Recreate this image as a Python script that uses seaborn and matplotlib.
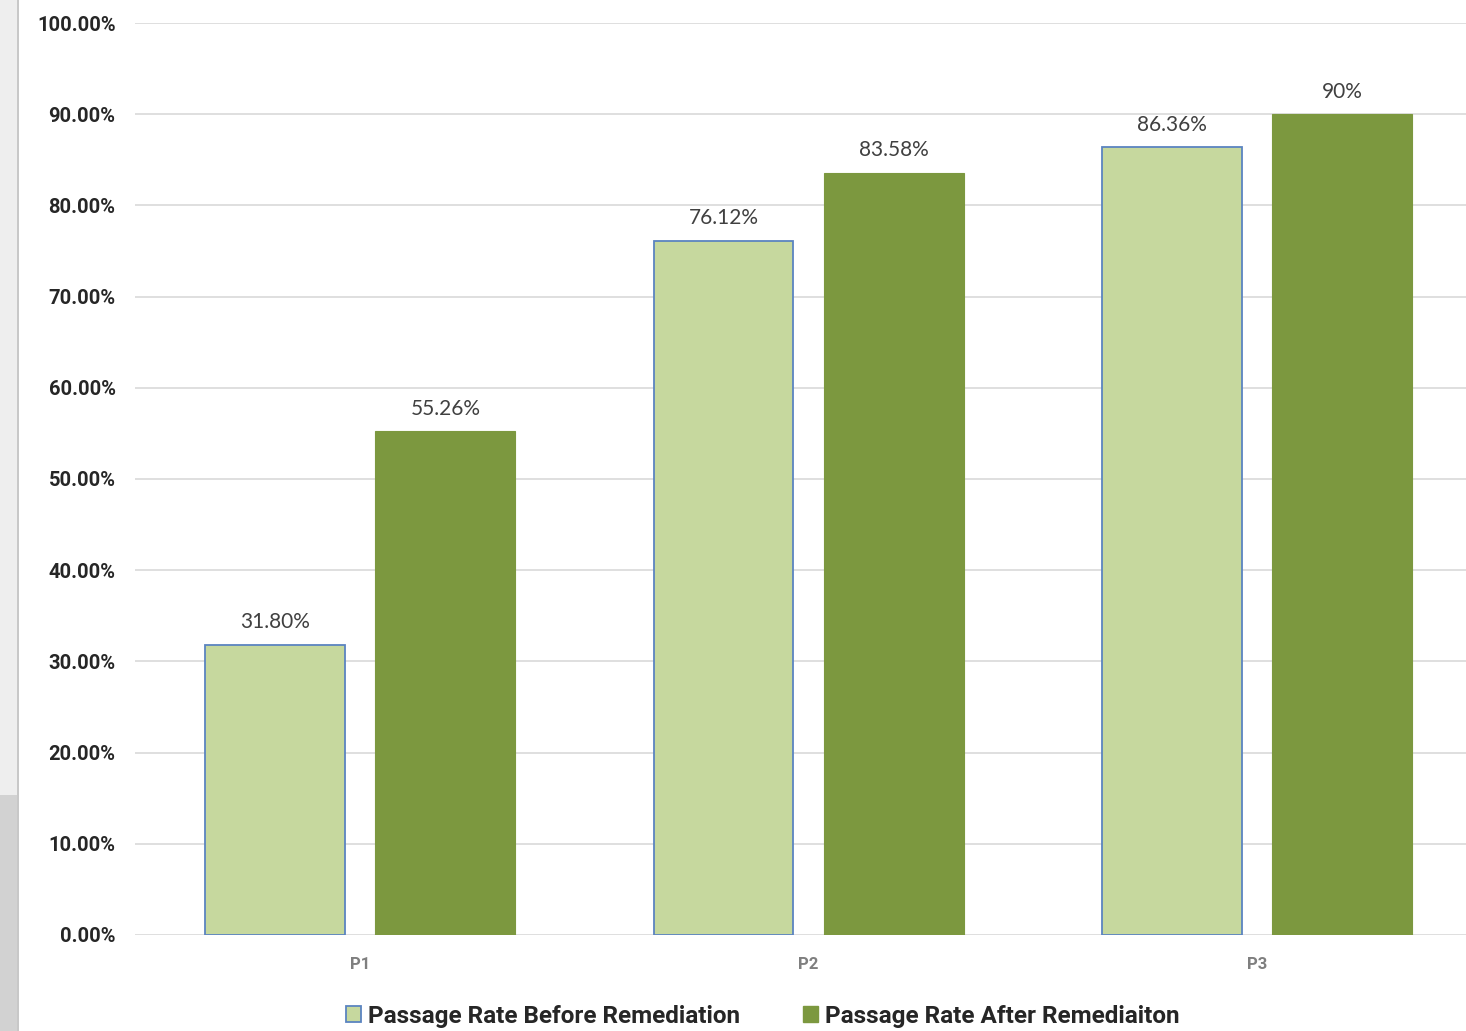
import numpy as np
import pandas as pd
import matplotlib
matplotlib.use("Agg")
import matplotlib.pyplot as plt
import seaborn as sns
from matplotlib.patches import Rectangle, Patch

phases = ["P1", "P2", "P3"]
before = [31.80, 76.12, 86.36]
after = [55.26, 83.58, 90.00]
before_labels = ["31.80%", "76.12%", "86.36%"]
after_labels = ["55.26%", "83.58%", "90%"]
series = ["Passage Rate Before Remediation", "Passage Rate After Remediaiton"]
yticks = [0, 10, 20, 30, 40, 50, 60, 70, 80, 90, 100]

light = "#C6D89E"
dark = "#7C983F"
edge_blue = "#5B84C0"

df = pd.DataFrame({
    "phase": phases * 2,
    "rate": before + after,
    "series": [series[0]] * 3 + [series[1]] * 3,
})

sns.set_style("white")
plt.rcParams["font.family"] = ["Lato", "DejaVu Sans"]
bold_font = ["Roboto", "DejaVu Sans"]

fig = plt.figure(figsize=(14.66, 10.31), dpi=100)
ax = fig.add_axes([135 / 1466, 96 / 1031, 1 - 135 / 1466, (935 - 23) / 1031])

sns.barplot(data=df, x="phase", y="rate", hue="series", hue_order=series,
            palette={series[0]: light, series[1]: dark},
            width=0.76, gap=0.18, ax=ax, legend=False, saturation=1)

for bar in ax.containers[0]:
    bar.set_edgecolor(edge_blue)
    bar.set_linewidth(1.3)
for bar in ax.containers[1]:
    bar.set_edgecolor(dark)
    bar.set_linewidth(0.8)

ax.bar_label(ax.containers[0], labels=before_labels, padding=9, fontsize=15, color="#404040")
ax.bar_label(ax.containers[1], labels=after_labels, padding=9, fontsize=15, color="#404040")

ax.set_ylim(0, 100)
ax.set_xlim(-0.502, -0.502 + 1331 / 448.5)
ax.set_yticks(yticks)
ax.set_yticklabels([f"{v:.2f}%" for v in yticks], fontsize=14.5, fontweight="bold",
                   color="#262626", family=bold_font)
ax.tick_params(axis="y", length=0, pad=14)
ax.tick_params(axis="x", length=0, pad=16, labelsize=12, labelcolor="#7F7F7F")
for lab in ax.get_xticklabels():
    lab.set_fontweight("bold")
    lab.set_family(bold_font)
ax.yaxis.grid(True, color="#D9D9D9", linewidth=1.2)
ax.set_axisbelow(True)
for s in ax.spines.values():
    s.set_visible(False)
ax.set_xlabel("")
ax.set_ylabel("")

# page shadow on the left edge
fig.patches.append(Rectangle((0, 0), 18 / 1466, 1, transform=fig.transFigure,
                             facecolor="#EEEEEE", edgecolor="none", zorder=-1))
fig.patches.append(Rectangle((0, 0), 18 / 1466, (1031 - 795) / 1031, transform=fig.transFigure,
                             facecolor="#D2D2D2", edgecolor="none", zorder=-1))
fig.patches.append(Rectangle((17 / 1466, 0), 2 / 1466, 1, transform=fig.transFigure,
                             facecolor="#C8C8C8", edgecolor="none", zorder=-1))

handles = [Patch(facecolor=light, edgecolor=edge_blue, linewidth=1.3),
           Patch(facecolor=dark, edgecolor=dark)]
fig.legend(handles, series, loc="center", bbox_to_anchor=(763 / 1466, 1 - 1016 / 1031),
           ncol=2, frameon=False, handlelength=0.6, handleheight=0.6, handletextpad=0.3,
           columnspacing=2.6, prop={"size": 17.5, "weight": "bold", "family": bold_font})

fig.savefig("out.png", dpi=100)
